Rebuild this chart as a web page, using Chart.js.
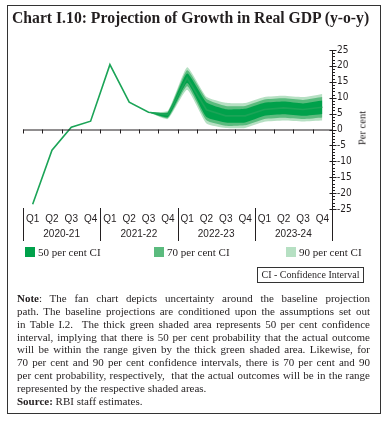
<!DOCTYPE html>
<html>
<head>
<meta charset="utf-8">
<script src="https://cdn.jsdelivr.net/npm/chart.js@4.4.1/dist/chart.umd.min.js"></script>
<style>
  body { margin: 0; width: 387px; height: 421px; background: #fff; position: relative; overflow: hidden; font-family: "Liberation Serif", "DejaVu Serif", serif; color: #231f20; }
  #frame { position: absolute; left: 7px; top: 5px; width: 374px; height: 409px; border: 1.5px solid #333; box-sizing: border-box; }
  #chart { position: absolute; left: 0; top: 0; }
  #title { position: absolute; left: 12px; top: 9px; font-weight: bold; font-size: 15.7px; white-space: nowrap; }
  #ytitle { position: absolute; left: 362px; top: 128px; font-size: 10.5px; transform: translate(-50%, -50%) rotate(-90deg); white-space: nowrap; }
  .leg { position: absolute; top: 246px; font-size: 11px; white-space: nowrap; }
  .leg span { display: inline-block; width: 10px; height: 10px; vertical-align: -1px; margin-right: 3px; }
  #cibox { position: absolute; left: 257px; top: 267px; width: 107px; height: 16px; border: 1px solid #333; box-sizing: border-box; font-size: 10px; line-height: 14px; text-align: center; white-space: nowrap; }
  #note { position: absolute; left: 17px; top: 292px; width: 353px; font-size: 11px; line-height: 12.85px; }
  #note div { white-space: nowrap; text-align: justify; text-align-last: justify; }
  #note div.end { text-align-last: left; }
</style>
</head>
<body>
<div id="frame"></div>
<canvas id="chart" width="387" height="421"></canvas>
<div id="title">Chart I.10: Projection of Growth in Real GDP (y-o-y)</div>
<div id="ytitle">Per cent</div>
<div class="leg" style="left:25px"><span style="background:#00a14b"></span>50 per cent CI</div>
<div class="leg" style="left:154px"><span style="background:#5bbb7e"></span>70 per cent CI</div>
<div class="leg" style="left:286px"><span style="background:#b6e0c3"></span>90 per cent CI</div>
<div id="cibox">CI - Confidence Interval</div>
<div id="note">
  <div><b>Note</b>: The fan chart depicts uncertainty around the baseline projection</div>
  <div>path. The baseline projections are conditioned upon the assumptions set out</div>
  <div>in Table I.2.&nbsp; The thick green shaded area represents 50 per cent confidence</div>
  <div>interval, implying that there is 50 per cent probability that the actual outcome</div>
  <div>will be within the range given by the thick green shaded area. Likewise, for</div>
  <div>70 per cent and 90 per cent confidence intervals, there is 70 per cent and 90</div>
  <div>per cent probability, respectively,&nbsp; that the actual outcomes will be in the range</div>
  <div class="end">represented by the respective shaded areas.</div>
  <div class="end"><b>Source:</b> RBI staff estimates.</div>
</div>
<script>
const quarters = ['Q1', 'Q2', 'Q3', 'Q4', 'Q1', 'Q2', 'Q3', 'Q4', 'Q1', 'Q2', 'Q3', 'Q4', 'Q1', 'Q2', 'Q3', 'Q4'];
const years = ['2020-21', '2021-22', '2022-23', '2023-24'];
const yTicks = [25, 20, 15, 10, 5, 0, -5, -10, -15, -20, -25];

// actual + baseline path
const growth = [-23.5, -6.5, 0.7, 2.6, 20.4, 8.6, 5.4, 4.6, 16.2, 6.2, 4.3, 4.3, 6.3, 6.8, 6.3, 7.0];
// confidence bands (fan starts at last actual quarter)
const ci50High = [null, null, null, null, null, null, 5.4, 5.3, 17.6, 8.5, 6.4, 6.5, 8.4, 8.8, 8.2, 9.1];
const ci50Low  = [null, null, null, null, null, null, 5.4, 3.9, 14.6, 3.9, 2.2, 2.2, 4.3, 4.8, 4.3, 4.9];
const ci70High = [null, null, null, null, null, null, 5.4, 5.6, 18.6, 9.6, 7.4, 7.4, 9.4, 9.8, 9.3, 10.2];
const ci70Low  = [null, null, null, null, null, null, 5.4, 3.6, 13.6, 2.9, 1.2, 1.3, 3.3, 3.7, 3.3, 3.8];
const ci90High = [null, null, null, null, null, null, 5.4, 5.9, 19.6, 10.3, 8.4, 8.3, 10.2, 10.6, 10.2, 11.2];
const ci90Low  = [null, null, null, null, null, null, 5.4, 3.3, 12.5, 1.9, 0.5, 0.5, 2.4, 2.8, 2.5, 2.8];

const ink = '#231f20';
const catFont = '10px "Liberation Sans", "DejaVu Sans", sans-serif';

function band(data, color, fill) {
  return { data, borderWidth: 0, pointRadius: 0, backgroundColor: color, fill, tension: 0.15, spanGaps: false };
}

// axis at zero, minor ticks, category and year labels
const axisDecor = {
  id: 'axisDecor',
  afterDraw(chart) {
    const { ctx, chartArea } = chart;
    const x = chart.scales.x, y = chart.scales.y;
    const y0 = y.getPixelForValue(0);
    const step = x.getPixelForValue(1) - x.getPixelForValue(0);
    const edge = i => x.getPixelForValue(i) - step / 2;
    ctx.save();
    ctx.strokeStyle = ink;
    ctx.lineWidth = 1;
    ctx.beginPath();
    ctx.moveTo(chartArea.left, y0 + 0.5);
    ctx.lineTo(chartArea.right, y0 + 0.5);
    for (let i = 0; i < quarters.length; i++) {
      const px = Math.round(edge(i)) + 0.5;
      ctx.moveTo(px, y0);
      ctx.lineTo(px, y0 + 4);
    }
    // y axis ticks
    const ax = Math.round(chartArea.right) + 0.5;
    for (let v = -25; v <= 25; v++) {
      const py = Math.round(y.getPixelForValue(v)) + 0.5;
      if (v % 5 === 0) { ctx.moveTo(ax - 3, py); ctx.lineTo(ax + 4, py); }
      else { ctx.moveTo(ax, py); ctx.lineTo(ax + 2.5, py); }
    }
    ctx.moveTo(ax, chartArea.top);
    ctx.lineTo(ax, 241);
    // year separators
    for (let g = 0; g < years.length; g++) {
      const px = Math.round(edge(g * 4)) + 0.5;
      ctx.moveTo(px, 208);
      ctx.lineTo(px, 241);
    }
    ctx.stroke();
    ctx.fillStyle = ink;
    ctx.textAlign = 'center';
    ctx.textBaseline = 'middle';
    ctx.font = catFont;
    quarters.forEach((q, i) => ctx.fillText(q, x.getPixelForValue(i), 219));
    years.forEach((yr, g) => ctx.fillText(yr, (edge(g * 4) + edge(g * 4 + 4)) / 2, 234));
    ctx.restore();
  }
};

new Chart(document.getElementById('chart'), {
  type: 'line',
  data: {
    labels: quarters,
    datasets: [
      { data: growth, borderColor: '#1ba457', borderWidth: 1.6, pointRadius: 0, fill: false, tension: 0 },
      band(ci50High, '#00a14b', '+1'),
      band(ci50Low, '#00a14b', false),
      band(ci70High, '#5bbb7e', '+1'),
      band(ci70Low, '#5bbb7e', false),
      band(ci90High, '#b6e0c3', '+1'),
      band(ci90Low, '#b6e0c3', false)
    ]
  },
  options: {
    responsive: false,
    animation: false,
    layout: { padding: { left: 23, top: 50, bottom: 212, right: 13 } },
    plugins: { legend: { display: false }, tooltip: { enabled: false } },
    scales: {
      x: { display: false, offset: true },
      y: {
        position: 'right',
        min: -25, max: 25,
        afterFit: s => { s.width = 42; },
        afterBuildTicks: s => { s.ticks = yTicks.map(v => ({ value: v })); },
        grid: { display: false, drawTicks: false },
        border: { display: false },
        ticks: { padding: 5, color: ink, font: { family: '"Liberation Sans Narrow", "DejaVu Sans Condensed", sans-serif', size: 10 } }
      }
    }
  },
  plugins: [axisDecor]
});
</script>
</body>
</html>
